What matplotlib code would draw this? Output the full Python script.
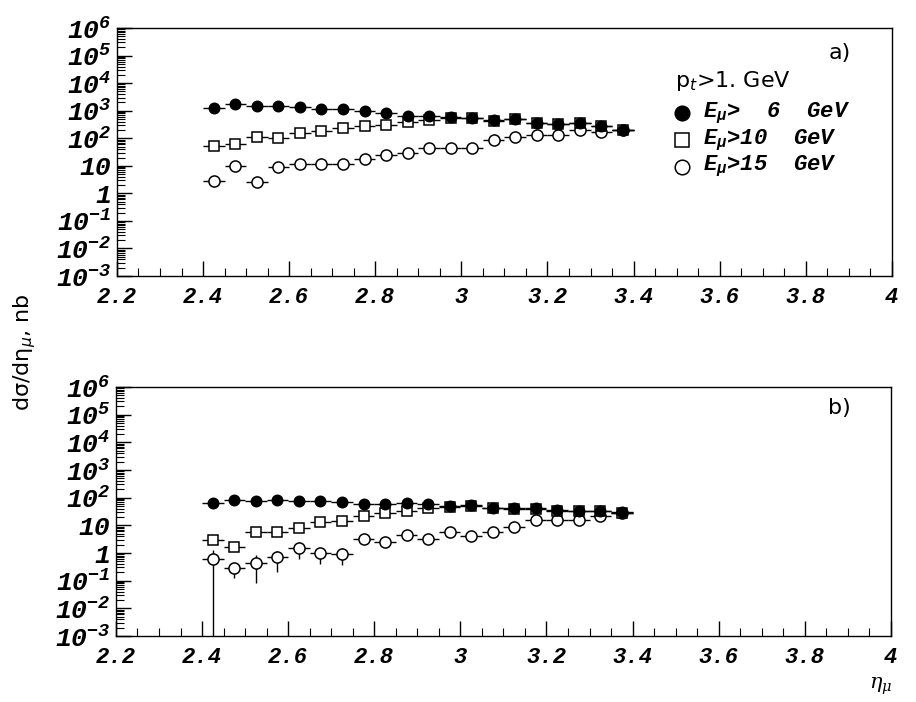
import matplotlib
matplotlib.use("Agg")
import matplotlib.pyplot as plt
from matplotlib.ticker import LogLocator, MultipleLocator, NullFormatter

# bold italic mono for the tick numbers (math exponents via the custom set)
plt.rcParams['mathtext.fontset'] = 'dejavusans'
plt.rcParams['mathtext.rm'] = 'Liberation Mono:bold:italic'
plt.rcParams['mathtext.it'] = 'Liberation Mono:bold:italic'
plt.rcParams['mathtext.bf'] = 'Liberation Mono:bold:italic'

#%% data
eta_bins = [2.425, 2.475, 2.525, 2.575, 2.625, 2.675, 2.725, 2.775, 2.825, 2.875,
            2.925, 2.975, 3.025, 3.075, 3.125, 3.175, 3.225, 3.275, 3.325, 3.375]
bin_half = 0.025

# panel a)
a_e6 = [1300, 1700, 1450, 1450, 1350, 1170, 1170, 960, 850, 650,
        620, 610, 560, 450, 515, 360, 340, 360, 280, 205]
a_e10 = [51, 60, 112, 98, 160, 184, 235, 270, 295, 390,
         450, 560, 540, 430, 505, 355, 335, 350, 275, 205]
a_e15 = [2.8, 9.7, 2.6, 9.1, 12, 12, 11.5, 18, 24, 28,
         44, 44, 44, 90, 112, 128, 136, 195, 170, 205]

# panel b)
b_e6 = [66, 83, 78, 83, 78, 78, 68, 59, 59, 63,
        60, 50, 53, 43, 41, 43, 36, 34, 34, 30]
b_e10 = [2.9, 1.7, 5.6, 5.6, 8.2, 13.5, 14.7, 22, 27, 34,
         41, 47, 50, 41, 39, 40, 34, 33, 33, 29]
b_e15 = [0.6, 0.28, 0.45, 0.69, 1.5, 0.98, 0.92, 3.1, 2.4, 4.5,
         3.1, 5.6, 4.2, 5.9, 8.5, 15.6, 15.6, 15.6, 22, 29]
b_e15_err = [0.66, 0.16, 0.37, 0.48, 0.9, 0.58, 0.55, 0.5, 0.4, 0.6,
             0.5, 0.6, 0.5, 0.6, 0.8, 1.2, 1.2, 1.2, 1.5, 2.0]

x_ticks = [2.2, 2.4, 2.6, 2.8, 3.0, 3.2, 3.4, 3.6, 3.8, 4.0]
x_ticklabels = ['2.2', '2.4', '2.6', '2.8', '3', '3.2', '3.4', '3.6', '3.8', '4']
y_ticks = [1e-3, 1e-2, 1e-1, 1, 10, 1e2, 1e3, 1e4, 1e5, 1e6]
y_ticklabels = ['$10^{-3}$', '$10^{-2}$', '$10^{-1}$', '1', '10',
                '$10^{2}$', '$10^{3}$', '$10^{4}$', '$10^{5}$', '$10^{6}$']

legend_labels = ['$E_{\\mu}$>  6  GeV', '$E_{\\mu}$>10  GeV', '$E_{\\mu}$>15  GeV']

MONO = dict(family='Liberation Mono', weight='bold', style='italic')


#%%
def style_axis(ax):
    ax.set_yscale('log')
    ax.set_xlim(2.2, 4.0)
    ax.set_ylim(1e-3, 1e6)
    ax.set_xticks(x_ticks, x_ticklabels)
    ax.xaxis.set_minor_locator(MultipleLocator(0.05))
    ax.set_yticks(y_ticks, y_ticklabels)
    ax.yaxis.set_minor_locator(LogLocator(base=10, subs=range(2, 10), numticks=20))
    ax.yaxis.set_minor_formatter(NullFormatter())
    ax.tick_params(which='major', direction='in', length=11, width=1.0,
                   top=False, right=False)
    ax.tick_params(which='minor', direction='in', length=5.5, width=0.8,
                   top=False, right=False)
    ax.tick_params(axis='x', pad=8, labelsize=16)
    ax.tick_params(axis='y', pad=4, labelsize=19)
    for lab in ax.get_xticklabels() + ax.get_yticklabels():
        lab.set_fontfamily('Liberation Mono')
        lab.set_fontweight('bold')
        lab.set_fontstyle('italic')
        lab.set_math_fontfamily('custom')
    for sp in ax.spines.values():
        sp.set_linewidth(1.0)


def draw_set(ax, y, marker, face, yerr=None, ms=7.5):
    ax.errorbar(eta_bins, y, xerr=bin_half, yerr=yerr, fmt=marker,
                mfc=face, mec='black', mew=1.1, ms=ms, color='black',
                elinewidth=1.0, capsize=0, zorder=3)


fig = plt.figure(figsize=(9.16, 7.02), dpi=100)
ax1 = fig.add_axes([0.1277, 0.6068, 0.846, 0.3533])
ax2 = fig.add_axes([0.1266, 0.0940, 0.846, 0.3547])

for ax in (ax1, ax2):
    style_axis(ax)

draw_set(ax1, a_e15, 'o', 'white', ms=8)
draw_set(ax1, a_e10, 's', 'white', ms=7.5)
draw_set(ax1, a_e6, 'o', 'black', ms=7.5)

draw_set(ax2, b_e15, 'o', 'white', yerr=b_e15_err, ms=8)
draw_set(ax2, b_e10, 's', 'white', ms=7.5)
draw_set(ax2, b_e6, 'o', 'black', ms=7.5)

ax1.text(0.933, 0.90, 'a)', transform=ax1.transAxes, fontsize=16,
         ha='center', va='center')
ax2.text(0.933, 0.915, 'b)', transform=ax2.transAxes, fontsize=16,
         ha='center', va='center')

# legend by hand, like the original
ax1.text(0.72, 0.786, 'p$_{t}$>1. GeV', transform=ax1.transAxes, fontsize=16,
         ha='left', va='center')
legend_y = [0.657, 0.548, 0.440]
legend_style = [('o', 'black'), ('s', 'white'), ('o', 'white')]
for yy, lab, (mk, fc) in zip(legend_y, legend_labels, legend_style):
    ax1.plot([0.729], [yy], marker=mk, mfc=fc, mec='black', mew=1.1, ms=10.5,
             transform=ax1.transAxes, clip_on=False, linestyle='None')
    ax1.text(0.756, yy, lab, transform=ax1.transAxes, fontsize=16,
             ha='left', va='center', math_fontfamily='custom', **MONO)

fig.text(0.027, 0.499, 'd\u03c3/d\u03b7$_{\\mu}$, nb', rotation=90,
         fontsize=16, ha='center', va='center')
fig.text(0.962, 0.022, '\u03b7$_{\\mu}$', fontsize=15, family='DejaVu Serif',
         style='italic', math_fontfamily='dejavuserif', ha='center', va='center')

fig.savefig('out.png', dpi=100)
